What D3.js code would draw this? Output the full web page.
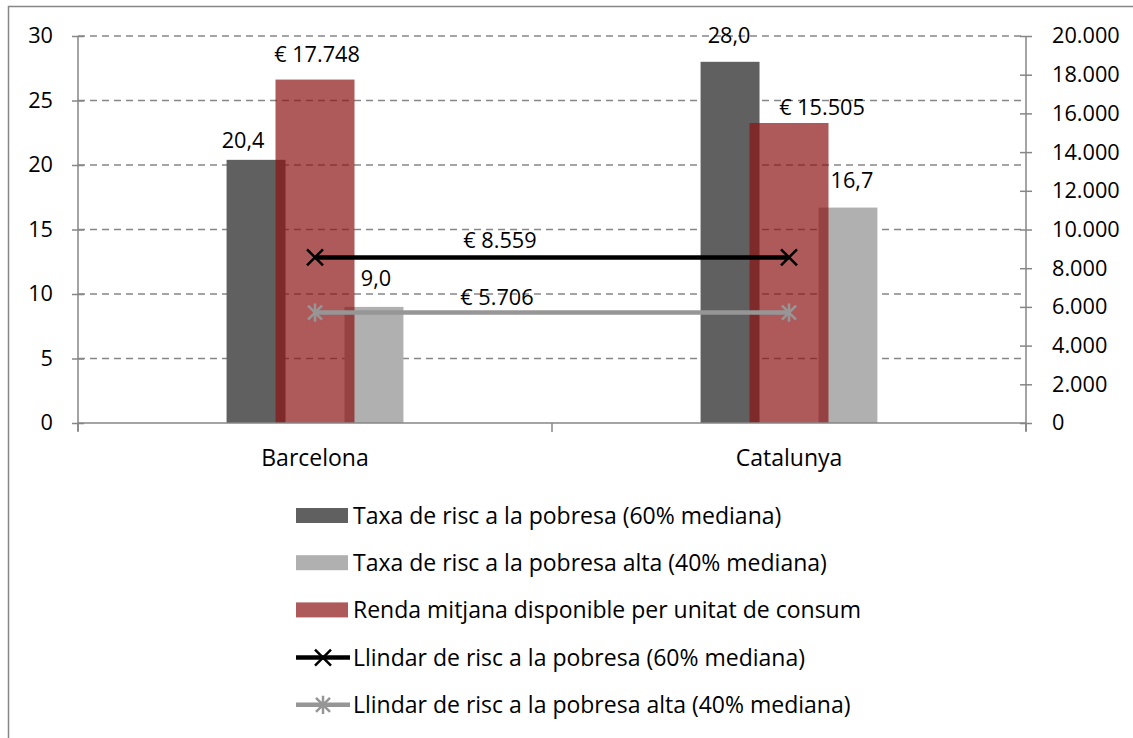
<!DOCTYPE html>
<html>
<head>
<meta charset="utf-8">
<script src="https://cdn.jsdelivr.net/npm/d3@7"></script>
<style>
  body { margin: 0; background: #fff; }
  svg { display: block; }
  text { font-family: "Open Sans", Lato, sans-serif; fill: #000; }
</style>
</head>
<body>
<svg id="chart" width="1133" height="738"></svg>
<script>
'use strict';

// data
const categories = ['Barcelona', 'Catalunya'];
const taxa60 = [20.4, 28.0];
const taxa40 = [9.0, 16.7];
const renda = [17748, 15505];
const llindar60 = [8559, 8559];
const llindar40 = [5706, 5706];
const leftTicks = [0, 5, 10, 15, 20, 25, 30];
const rightTicks = [0, 2000, 4000, 6000, 8000, 10000, 12000, 14000, 16000, 18000, 20000];
const legendLabels = [
  'Taxa de risc a la pobresa (60% mediana)',
  'Taxa de risc a la pobresa alta (40% mediana)',
  'Renda mitjana disponible per unitat de consum',
  'Llindar de risc a la pobresa (60% mediana)',
  'Llindar de risc a la pobresa alta (40% mediana)'
];

// label nudges (hand-placed labels in the original)
const nudge60 = [[-13, -12], [-1, -19]];
const nudge40 = [[2, -21], [4, -20]];
const nudgeRenda = [[2, -18], [33, -8]];

const svg = d3.select('#chart');
const fontSize = 21.7;      // numbers
const wordSize = 23;        // words (Calibri letters run wider than Open Sans)
const fontFamily = '"Open Sans", Lato, sans-serif';
const axisColor = '#868686';

const plot = { left: 78, right: 1026, top: 36, bottom: 423 };

const x = d3.scaleBand().domain(categories).range([plot.left, plot.right]).padding(0);
const xs = d3.scaleBand()
  .domain(['t60', 'renda', 't40'])
  .range([0, x.bandwidth()])
  .paddingInner(0)
  .paddingOuter(2.52);
const yL = d3.scaleLinear().domain([0, 30]).range([plot.bottom, plot.top]);
const yR = d3.scaleLinear().domain([0, 20000]).range([plot.bottom, plot.top]);

const fmtL = d => d3.format('.1f')(d).replace('.', ',');
const fmtR = d => d3.format(',')(d).replace(/,/g, '.');

// chart border
svg.append('rect')
  .attr('x', 8.5).attr('y', 6.5)
  .attr('width', 1140).attr('height', 760)
  .attr('fill', 'none')
  .attr('stroke', axisColor)
  .attr('stroke-width', 1.5);

// gridlines
svg.append('g')
  .selectAll('line')
  .data(leftTicks.filter(d => d > 0))
  .join('line')
  .attr('x1', plot.left).attr('x2', plot.right)
  .attr('y1', d => yL(d)).attr('y2', d => yL(d))
  .attr('stroke', axisColor)
  .attr('stroke-width', 1.3)
  .attr('stroke-dasharray', '7,5');

// primary bars
const barW = xs.bandwidth();
svg.append('g')
  .selectAll('rect')
  .data(categories)
  .join('rect')
  .attr('x', d => x(d) + xs('t60'))
  .attr('width', barW)
  .attr('y', (d, i) => yL(taxa60[i]))
  .attr('height', (d, i) => plot.bottom - yL(taxa60[i]))
  .attr('fill', '#606060');

svg.append('g')
  .selectAll('rect')
  .data(categories)
  .join('rect')
  .attr('x', d => x(d) + xs('t40'))
  .attr('width', barW)
  .attr('y', (d, i) => yL(taxa40[i]))
  .attr('height', (d, i) => plot.bottom - yL(taxa40[i]))
  .attr('fill', '#b0b0b0');

// secondary bars (semi-transparent)
const rendaW = barW * 1.34;
svg.append('g')
  .selectAll('rect')
  .data(categories)
  .join('rect')
  .attr('x', d => x(d) + xs('renda') + barW / 2 - rendaW / 2)
  .attr('width', rendaW)
  .attr('y', (d, i) => yR(renda[i]))
  .attr('height', (d, i) => plot.bottom - yR(renda[i]))
  .attr('fill', 'rgb(140,20,22)')
  .attr('fill-opacity', 0.7);

// axes
const axL = svg.append('g')
  .attr('transform', `translate(${plot.left},0)`)
  .call(d3.axisLeft(yL).tickValues(leftTicks).tickSize(6).tickPadding(19).tickFormat(d3.format('d')));
axL.selectAll('.tick line').attr('x1', 6);

const axR = svg.append('g')
  .attr('transform', `translate(${plot.right},0)`)
  .call(d3.axisRight(yR).tickValues(rightTicks).tickSize(6).tickPadding(20).tickFormat(fmtR));
axR.selectAll('.tick line').attr('x1', -6);

const axB = svg.append('g')
  .attr('transform', `translate(0,${plot.bottom})`)
  .call(d3.axisBottom(x).tickSize(0));
axB.append('g')
  .selectAll('line')
  .data([plot.left, x('Catalunya'), plot.right])
  .join('line')
  .attr('x1', d => d).attr('x2', d => d)
  .attr('y1', 0).attr('y2', 9)
  .attr('stroke', axisColor)
  .attr('stroke-width', 1.5);

[axL, axR, axB].forEach(a => {
  a.selectAll('.domain').attr('stroke', axisColor).attr('stroke-width', 1.5);
  a.selectAll('.tick line').attr('stroke', axisColor).attr('stroke-width', 1.5);
  a.selectAll('text').attr('font-size', fontSize).attr('font-family', fontFamily).attr('fill', '#000');
});
axB.selectAll('.tick text').attr('dy', null).attr('y', 43).attr('font-size', wordSize);
axL.select('.domain').attr('d', `M0,${plot.top}V${plot.bottom + 8}`);
axR.select('.domain').attr('d', `M0,${plot.top}V${plot.bottom + 8}`);
axB.select('.domain').attr('d', `M${plot.left},0H${plot.right}`);

// lines
const cx = d => x(d) + x.bandwidth() / 2;
const lineGen = d3.line().x((d, i) => cx(categories[i])).y(d => yR(d));
svg.append('path')
  .datum(llindar60)
  .attr('d', lineGen)
  .attr('fill', 'none')
  .attr('stroke', '#000')
  .attr('stroke-width', 4.5);
svg.append('path')
  .datum(llindar40)
  .attr('d', lineGen)
  .attr('fill', 'none')
  .attr('stroke', '#969696')
  .attr('stroke-width', 4.5);

function crossMarker(g, px, py, color, s, star) {
  g.append('path')
    .attr('d', `M${px - s},${py - s}L${px + s},${py + s}M${px - s},${py + s}L${px + s},${py - s}` +
      (star ? `M${px},${py - s * 1.3}V${py + s * 1.3}` : ''))
    .attr('stroke', color)
    .attr('stroke-width', 2.5)
    .attr('fill', 'none');
}

const mk = svg.append('g');
categories.forEach((c, i) => {
  crossMarker(mk, cx(c), yR(llindar60[i]), '#000', 8, false);
  crossMarker(mk, cx(c), yR(llindar40[i]), '#969696', 7, true);
});

// data labels
const labels = svg.append('g')
  .attr('font-size', fontSize)
  .attr('font-family', fontFamily)
  .attr('text-anchor', 'middle');
categories.forEach((c, i) => {
  labels.append('text')
    .attr('x', x(c) + xs('t60') + barW / 2 + nudge60[i][0])
    .attr('y', yL(taxa60[i]) + nudge60[i][1])
    .text(fmtL(taxa60[i]));
  labels.append('text')
    .attr('x', x(c) + xs('t40') + barW / 2 + nudge40[i][0])
    .attr('y', yL(taxa40[i]) + nudge40[i][1])
    .text(fmtL(taxa40[i]));
  labels.append('text')
    .attr('x', x(c) + xs('renda') + barW / 2 + nudgeRenda[i][0])
    .attr('y', yR(renda[i]) + nudgeRenda[i][1])
    .text('€ ' + fmtR(renda[i]));
});
const midX = x('Catalunya') - 52;
labels.append('text')
  .attr('x', midX).attr('y', yR(llindar60[0]) - 9)
  .text('€ ' + fmtR(llindar60[0]));
labels.append('text')
  .attr('x', midX - 3).attr('y', yR(llindar40[0]) - 8)
  .text('€ ' + fmtR(llindar40[0]));

// legend
const legend = svg.append('g').attr('transform', 'translate(296,516)');
const swatches = [
  { type: 'rect', fill: '#606060' },
  { type: 'rect', fill: '#b0b0b0' },
  { type: 'rect', fill: 'rgb(140,20,22)', opacity: 0.7 },
  { type: 'line', stroke: '#000', star: false },
  { type: 'line', stroke: '#969696', star: true }
];
swatches.forEach((s, i) => {
  const row = legend.append('g').attr('transform', `translate(0,${i * 47.2})`);
  if (s.type === 'rect') {
    row.append('rect')
      .attr('x', 0).attr('y', -8)
      .attr('width', 52).attr('height', 15)
      .attr('fill', s.fill)
      .attr('fill-opacity', s.opacity || 1);
  } else {
    row.append('line')
      .attr('x1', 0).attr('x2', 54)
      .attr('y1', 0).attr('y2', 0)
      .attr('stroke', s.stroke)
      .attr('stroke-width', 4.5);
    crossMarker(row, 27, 0, s.stroke, s.star ? 7 : 8, s.star);
  }
  row.append('text')
    .attr('x', 57)
    .attr('y', 8)
    .attr('font-size', wordSize)
    .attr('font-family', fontFamily)
    .text(legendLabels[i]);
});
</script>
</body>
</html>
